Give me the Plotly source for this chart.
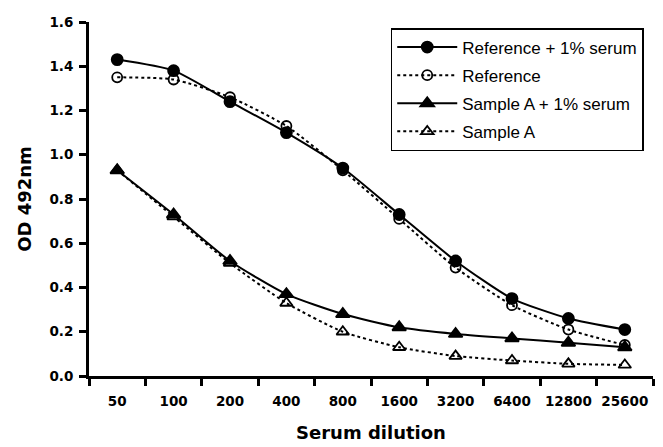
import plotly.graph_objects as go

dilutions = ["50", "100", "200", "400", "800", "1600", "3200", "6400", "12800", "25600"]
ref_serum = [1.43, 1.38, 1.24, 1.10, 0.94, 0.73, 0.52, 0.35, 0.26, 0.21]
ref_plain = [1.35, 1.34, 1.26, 1.13, 0.93, 0.71, 0.49, 0.32, 0.21, 0.14]
sample_serum = [0.93, 0.73, 0.52, 0.37, 0.28, 0.22, 0.19, 0.17, 0.15, 0.13]
sample_plain = [0.93, 0.72, 0.51, 0.33, 0.20, 0.13, 0.09, 0.07, 0.055, 0.05]

series = [
    ("Reference + 1% serum", ref_serum, "solid", "circle", 11),
    ("Reference", ref_plain, "dot", "circle-open", 10),
    ("Sample A + 1% serum", sample_serum, "solid", "triangle-up", 12),
    ("Sample A", sample_plain, "dot", "triangle-up-open", 11),
]

fig = go.Figure()
for i, (name, vals, dash, symbol, size) in enumerate(series):
    fig.add_trace(go.Scatter(
        x=dilutions, y=vals, name=name, mode="lines+markers", legendgroup=f"g{i}",
        line=dict(color="black", width=2, dash=dash, shape="spline", smoothing=0.6),
        marker=dict(symbol=symbol, size=size, color="black",
                    line=dict(color="black", width=1.8)),
    ))

tick_font = dict(family="DejaVu Sans", size=13.5, color="black", weight="bold")
title_font = dict(family="DejaVu Sans", size=18, color="black", weight="bold")

fig.update_layout(
    width=663, height=447,
    margin=dict(l=89, r=10, t=22, b=71, autoexpand=False),
    plot_bgcolor="white", paper_bgcolor="white",
    font=dict(family="Liberation Sans", color="black"),
    legend=dict(
        x=0.535, y=0.983, xanchor="left", yanchor="top",
        bordercolor="black", borderwidth=1.5, bgcolor="white",
        font=dict(family="Liberation Sans", size=17, color="black"),
        itemwidth=60, traceorder="grouped", tracegroupgap=3,
    ),
    xaxis=dict(
        type="category", range=[-0.5, 9.5], tickangle=0, automargin=False,
        showline=True, linecolor="black", linewidth=3,
        ticks="outside", tickson="boundaries", ticklen=7, tickwidth=2.5, tickcolor="black",
        ticklabelstandoff=11,
        showgrid=False, zeroline=False, tickfont=tick_font,
        title=dict(text="Serum dilution", font=title_font, standoff=19),
    ),
    yaxis=dict(
        range=[0, 1.6], dtick=0.2, tickformat=".1f", automargin=False,
        showline=True, linecolor="black", linewidth=3,
        ticks="outside", ticklen=7, tickwidth=2.5, tickcolor="black",
        ticklabelstandoff=3,
        showgrid=False, zeroline=False, tickfont=tick_font,
        title=dict(text="OD 492nm", font=title_font, standoff=14),
    ),
)

fig.write_html("out.html")
